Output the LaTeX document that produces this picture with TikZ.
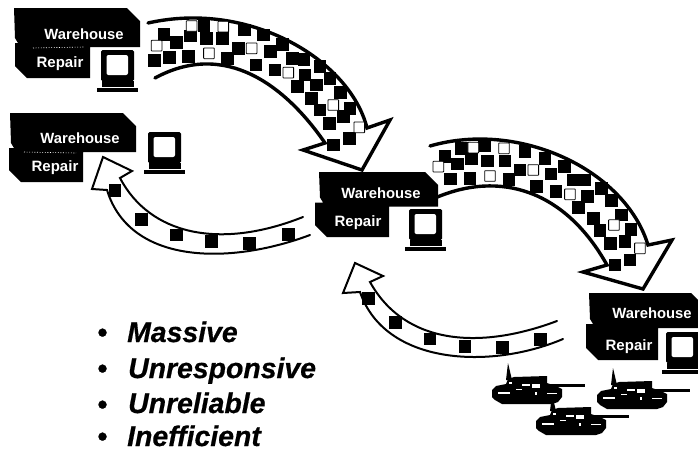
\documentclass[tikz,border=0pt]{standalone}
\usepackage{fontspec}
\setmainfont{Liberation Sans}
\tikzset{
  px/.style={x=1pt,y=-1pt},
  blockarrow/.style={draw=black,line width=#1,line join=miter,line cap=round,fill=none},
  blacksq/.style={fill=black},
  whitesq/.style={draw=black,line width=.8pt,fill=white,rounded corners=.6pt},
  whlabel/.style={text=white,font=\bfseries\fontsize{14.8}{16}\selectfont,inner sep=0pt},
  replabel/.style={text=white,font=\bfseries\fontsize{15}{16}\selectfont,inner sep=0pt},
  listlabel/.style={anchor=base west,inner sep=0pt,font=\bfseries\itshape\fontsize{28.4}{30}\selectfont\addfontfeature{FakeBold=0.6}},
  speck/.style={white,line width=.6pt,dash pattern=on 1pt off 1.6pt}
}
\newcommand{\whgroup}[9]{%
  \def\gn{#1}\def\gL{#2}\def\gT{#3}\def\gE{#4}\def\gW{#5}\def\gWx{#6}\def\gWy{#7}\def\gRL{#8}\def\gRR{#9}\whgroupB}
\newcommand{\whgroupB}[3]{%
  \fill[black] (\gL,\gT) -- ({\gL+\gW-13},\gT) -- ({\gL+\gW},{\gT+13}) -- ({\gL+\gW},\gE) -- (\gRR,\gE)
     -- (\gRR,#3) -- ({\gRL+12},#3) -- (\gRL,{#3-12}) -- (\gRL,{\gE-4}) -- ({\gL+4},{\gE-4}) -- ({\gL+1},{\gE-9}) -- cycle;
  \node[whlabel] (\gn w) at (\gWx,\gWy) {Warehouse};
  \node[replabel] (\gn r) at (#1,#2) {Repair};
}
\newcommand{\monitor}[2]{%
  \begin{scope}[shift={(#1,#2)}]
    \fill[black,rounded corners=1.5pt] (0,0) rectangle (33,31);
    \fill[white,rounded corners=2pt] (5.5,5) rectangle (27,25);
    \fill[black] (1,31) rectangle (33,37);
    \fill[white] (3,37) rectangle (32,38);
    \fill[black] (-4,38) rectangle (37,41.5);
  \end{scope}}
\newcommand{\tank}[2]{%
  \begin{scope}[shift={(#1,#2)}]
    \fill[black] (16,-14) -- (14,3) -- (20,3) -- cycle;
    \fill[black] (54,7) rectangle (93,10);
    \fill[black] (0,13) -- (4,9) -- (14,7) -- (16,2) -- (22,0) -- (55,-1) -- (55,6) -- (64,9) -- (70,12) -- (70,20) -- (66,25) -- (60,27) -- (10,27) -- (3,23) -- (0,20) -- cycle;
    \fill[white] (6,15) rectangle (18,16.5);
    \fill[white] (30,7) rectangle (38,8.5);
    \fill[white] (40,7) rectangle (48,11);
    \fill[white] (55,15.5) rectangle (65,17);
    \fill[white] (17,5) rectangle (20,7);
    \fill[white] (42.5,15) rectangle (44.5,18);
    \fill[white] (24,12) rectangle (30,13);
  \end{scope}}
\newcommand{\squares}[4]{%
  \begin{scope}[shift={(#1,#2)},x=.3333pt,y=-.3333pt]
    \foreach \a/\b in {#3} {\fill[blacksq] ({\a-19},{\b-19}) rectangle ({\a+19},{\b+19});}
    \foreach \a/\b in {#4} {\path[whitesq] ({\a-16},{\b-16}) rectangle ({\a+16},{\b+16});}
  \end{scope}}
\begin{document}
\begin{tikzpicture}[px]
\useasboundingbox[fill=white] (0,0) rectangle (698,453);
% arrow 1
\draw[blockarrow=3.4pt] (148,23) .. controls (250,0) and (350,60) .. (367,128)
  -- (390,120) -- (362,170) -- (303,150) -- (325,143)
  .. controls (285,85) and (225,40) .. (155,78);
\squares{0}{0}{492/103,530/128,572/108,612/78,620/115,668/115,733/90,790/105,715/145,682/175,565/170,508/172,463/182,812/155,847/133,768/195,825/210,878/175,912/178,960/200,915/225,990/235,892/260,950/255,1022/278,935/295,960/330,1050/325,1030/350,988/370,1048/415,1000/435}{470/137,575/78,670/80,627/160,755/145,865/218,1000/315,1078/382}
% arrow 3
\draw[blockarrow=3.4pt] (430,146) .. controls (520,120) and (625,170) .. (648,245)
  -- (672,240) -- (643,289) -- (583,272) -- (607,265)
  .. controls (565,190) and (500,170) .. (435,198);
\squares{300}{100}{435/170,472/192,515/175,485/145,553/138,563/183,615/183,675/155,735/175,793/200,660/210,627/238,510/235,452/237,753/222,710/260,768/275,820/240,855/240,905/265,862/290,835/323,935/302,880/355,965/345,900/392,993/388,975/425,932/430,990/480,945/495}{520/143,612/145,415/200,570/228,700/210,810/283,942/375,1020/445}
% arrow 2
\draw[blockarrow=2pt] (310,235) .. controls (230,265) and (130,265) .. (107,190)
  -- (92,189) -- (103,157) -- (132,171) -- (120,178)
  .. controls (150,235) and (220,250) .. (303,217);
\squares{0}{100}{345/272,424/358,530/405,635/425,748/430,865/403}{}
% arrow 4
\draw[blockarrow=2pt] (563,339) .. controls (490,370) and (385,365) .. (360,292)
  -- (343,293) -- (355,263) -- (383,276) -- (370,282)
  .. controls (405,345) and (480,350) .. (557,321);
\squares{330}{250}{115/145,197/217,300/267,405/290,517/293,632/268}{}
% warehouses
\whgroup{a}{14}{8}{47}{126}{84}{34}{15}{90}{60}{64}{78}
\draw[speck] (33,48) -- (84,47);
\whgroup{b}{10}{113}{152}{126}{80}{138}{9}{83}{55}{168}{182}
\draw[speck] (24,152) -- (76,153);
\whgroup{c}{319}{172}{206.5}{119}{381}{193}{315}{389}{358}{223}{237}
\whgroup{d}{589}{293}{328}{115}{652}{313}{586}{658}{629}{347}{360}
\monitor{101}{50}
\monitor{148}{132}
\monitor{409}{209}
\monitor{666}{332}
\tank{492}{377}
\tank{597}{382}
\tank{536}{408}
% list
\node[listlabel] (m0) at (97,342) {•};
\node[listlabel] (m1) at (127,342) {Massive};
\node[listlabel] (u0) at (97,378) {•};
\node[listlabel] (u1) at (128,378) {Unresponsive};
\node[listlabel] (r0) at (97,414) {•};
\node[listlabel] (r1) at (128,413) {Unreliable};
\node[listlabel] (i0) at (97,446) {•};
\node[listlabel] (i1) at (127,446) {Inefficient};
\end{tikzpicture}
\end{document}
